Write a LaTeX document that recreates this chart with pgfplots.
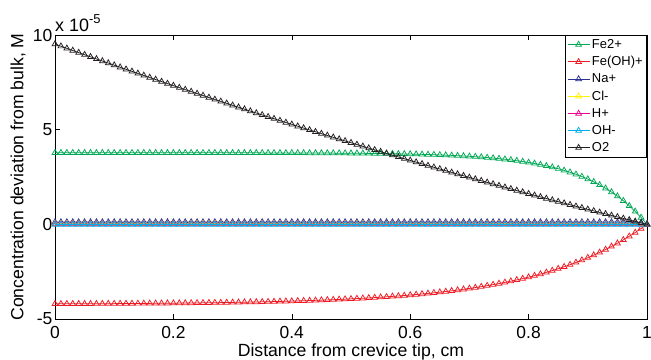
\documentclass[border=0pt]{standalone}
\usepackage{pgfplots}
\pgfplotsset{compat=1.18}
\usepackage{pgfplotstable}
\usepackage{fontspec}
\setmainfont{Liberation Sans}
\definecolor{fec}{RGB}{0,168,84}
\definecolor{feohc}{RGB}{237,28,36}
\definecolor{nac}{RGB}{46,49,146}
\definecolor{clc}{RGB}{255,242,0}
\definecolor{hc}{RGB}{236,0,140}
\definecolor{ohc}{RGB}{0,174,239}
\definecolor{o2c}{RGB}{35,31,32}
\pgfplotstableread{
x fe feoh na cl h oh o2
0.00 3.780 -4.201 0.12 0.03 0.01 -0.01 9.520
0.01 3.779 -4.200 0.12 0.03 0.01 -0.01 9.407
0.02 3.779 -4.199 0.12 0.03 0.01 -0.01 9.294
0.03 3.779 -4.198 0.12 0.03 0.01 -0.01 9.182
0.04 3.779 -4.197 0.12 0.03 0.01 -0.01 9.070
0.05 3.779 -4.195 0.12 0.03 0.01 -0.01 8.959
0.06 3.779 -4.194 0.12 0.03 0.01 -0.01 8.847
0.07 3.779 -4.193 0.12 0.03 0.01 -0.01 8.736
0.08 3.779 -4.191 0.12 0.03 0.01 -0.01 8.626
0.09 3.779 -4.189 0.12 0.03 0.01 -0.01 8.516
0.10 3.778 -4.188 0.12 0.03 0.01 -0.01 8.406
0.11 3.778 -4.186 0.12 0.03 0.01 -0.01 8.297
0.12 3.778 -4.184 0.12 0.03 0.01 -0.01 8.188
0.13 3.778 -4.182 0.12 0.03 0.01 -0.01 8.079
0.14 3.778 -4.180 0.12 0.03 0.01 -0.01 7.970
0.15 3.778 -4.177 0.12 0.03 0.01 -0.01 7.863
0.16 3.778 -4.175 0.12 0.03 0.01 -0.01 7.755
0.17 3.778 -4.173 0.12 0.03 0.01 -0.01 7.648
0.18 3.778 -4.170 0.12 0.03 0.01 -0.01 7.541
0.19 3.778 -4.167 0.12 0.03 0.01 -0.01 7.434
0.20 3.777 -4.164 0.12 0.03 0.01 -0.01 7.328
0.21 3.777 -4.161 0.12 0.03 0.01 -0.01 7.222
0.22 3.777 -4.158 0.12 0.03 0.01 -0.01 7.117
0.23 3.777 -4.154 0.12 0.03 0.01 -0.01 7.012
0.24 3.777 -4.151 0.12 0.03 0.01 -0.01 6.907
0.25 3.777 -4.147 0.12 0.03 0.01 -0.01 6.803
0.26 3.777 -4.143 0.12 0.03 0.01 -0.01 6.698
0.27 3.777 -4.139 0.12 0.03 0.01 -0.01 6.595
0.28 3.777 -4.134 0.12 0.03 0.01 -0.01 6.492
0.29 3.777 -4.129 0.12 0.03 0.01 -0.01 6.389
0.30 3.776 -4.124 0.12 0.03 0.01 -0.01 6.286
0.31 3.776 -4.119 0.12 0.03 0.01 -0.01 6.184
0.32 3.776 -4.113 0.12 0.03 0.01 -0.01 6.082
0.33 3.775 -4.107 0.12 0.03 0.01 -0.01 5.980
0.34 3.775 -4.101 0.12 0.03 0.01 -0.01 5.879
0.35 3.774 -4.094 0.12 0.03 0.01 -0.01 5.779
0.36 3.774 -4.087 0.12 0.03 0.01 -0.01 5.678
0.37 3.773 -4.080 0.12 0.03 0.01 -0.01 5.578
0.38 3.773 -4.072 0.12 0.03 0.01 -0.01 5.478
0.39 3.772 -4.064 0.12 0.03 0.01 -0.01 5.379
0.40 3.771 -4.055 0.12 0.03 0.01 -0.01 5.280
0.41 3.770 -4.046 0.12 0.03 0.01 -0.01 5.181
0.42 3.769 -4.036 0.12 0.03 0.01 -0.01 5.083
0.43 3.767 -4.026 0.12 0.03 0.01 -0.01 4.985
0.44 3.766 -4.015 0.12 0.03 0.01 -0.01 4.888
0.45 3.765 -4.004 0.12 0.03 0.01 -0.01 4.791
0.46 3.763 -3.992 0.12 0.03 0.01 -0.01 4.694
0.47 3.761 -3.979 0.12 0.03 0.01 -0.01 4.597
0.48 3.759 -3.966 0.12 0.03 0.01 -0.01 4.501
0.49 3.757 -3.952 0.12 0.03 0.01 -0.01 4.405
0.50 3.755 -3.937 0.12 0.03 0.01 -0.01 4.310
0.51 3.752 -3.921 0.12 0.03 0.01 -0.01 4.215
0.52 3.749 -3.905 0.12 0.03 0.01 -0.01 4.120
0.53 3.746 -3.887 0.12 0.03 0.01 -0.01 4.026
0.54 3.742 -3.869 0.12 0.03 0.01 -0.01 3.932
0.55 3.738 -3.849 0.12 0.03 0.01 -0.01 3.839
0.56 3.733 -3.829 0.12 0.03 0.01 -0.01 3.745
0.57 3.729 -3.807 0.12 0.03 0.01 -0.01 3.652
0.58 3.723 -3.784 0.12 0.03 0.01 -0.01 3.560
0.59 3.717 -3.760 0.12 0.03 0.01 -0.01 3.468
0.60 3.711 -3.734 0.12 0.03 0.01 -0.01 3.376
0.61 3.704 -3.707 0.12 0.03 0.01 -0.01 3.285
0.62 3.695 -3.679 0.12 0.03 0.01 -0.01 3.193
0.63 3.687 -3.649 0.12 0.03 0.01 -0.01 3.103
0.64 3.677 -3.617 0.12 0.03 0.01 -0.01 3.012
0.65 3.666 -3.584 0.12 0.03 0.01 -0.01 2.923
0.66 3.654 -3.548 0.12 0.03 0.01 -0.01 2.833
0.67 3.641 -3.511 0.12 0.03 0.01 -0.01 2.744
0.68 3.626 -3.472 0.12 0.03 0.01 -0.01 2.655
0.69 3.610 -3.430 0.12 0.03 0.01 -0.01 2.566
0.70 3.592 -3.386 0.12 0.03 0.01 -0.01 2.478
0.71 3.572 -3.340 0.12 0.03 0.01 -0.01 2.390
0.72 3.550 -3.291 0.12 0.03 0.01 -0.01 2.303
0.73 3.526 -3.239 0.12 0.03 0.01 -0.01 2.216
0.74 3.499 -3.185 0.12 0.03 0.01 -0.01 2.129
0.75 3.470 -3.127 0.12 0.03 0.01 -0.01 2.043
0.76 3.437 -3.067 0.12 0.03 0.01 -0.01 1.956
0.77 3.401 -3.003 0.12 0.03 0.01 -0.01 1.871
0.78 3.361 -2.935 0.12 0.03 0.01 -0.01 1.786
0.79 3.317 -2.864 0.12 0.03 0.01 -0.01 1.701
0.80 3.269 -2.788 0.12 0.03 0.01 -0.01 1.616
0.81 3.215 -2.709 0.12 0.03 0.01 -0.01 1.532
0.82 3.155 -2.625 0.12 0.03 0.01 -0.01 1.448
0.83 3.089 -2.536 0.12 0.03 0.01 -0.01 1.364
0.84 3.017 -2.443 0.12 0.03 0.01 -0.01 1.281
0.85 2.937 -2.344 0.12 0.03 0.01 -0.01 1.199
0.86 2.848 -2.240 0.12 0.03 0.01 -0.01 1.116
0.87 2.750 -2.130 0.12 0.03 0.01 -0.01 1.034
0.88 2.641 -2.014 0.12 0.03 0.01 -0.01 0.952
0.89 2.522 -1.891 0.12 0.03 0.01 -0.01 0.871
0.90 2.389 -1.762 0.12 0.03 0.01 -0.01 0.790
0.91 2.243 -1.626 0.12 0.03 0.01 -0.01 0.709
0.92 2.082 -1.481 0.12 0.03 0.01 -0.01 0.629
0.93 1.903 -1.329 0.12 0.03 0.01 -0.01 0.549
0.94 1.706 -1.169 0.12 0.03 0.01 -0.01 0.470
0.95 1.487 -0.999 0.12 0.03 0.01 -0.01 0.391
0.96 1.246 -0.820 0.12 0.03 0.01 -0.01 0.312
0.97 0.980 -0.632 0.12 0.03 0.01 -0.01 0.233
0.98 0.685 -0.433 0.11 0.03 0.01 -0.01 0.155
0.99 0.360 -0.222 0.08 0.02 0.01 -0.01 0.077
1.00 0.000 0.000 0.00 0.00 0.00 0.00 0.000
}\data
\begin{document}
\begin{tikzpicture}
\begin{axis}[
  width=592bp, height=284bp, scale only axis,
  clip mode=individual,
  xmin=0, xmax=1, ymin=-5, ymax=10,
  xtick={0,0.2,0.4,0.6,0.8,1}, xticklabels={0,0.2,0.4,0.6,0.8,1},
  ytick={-5,0,5,10}, yticklabels={-5,0,5,10},
  tick align=inside, major tick length=5bp,
  axis line style={line width=0.8pt},
  tick style={line width=0.6pt, color=black},
  ticklabel style={font=\fontsize{17.5}{20}\selectfont},
  xticklabel style={inner sep=0pt, yshift=-7.5bp},
  yticklabel style={inner sep=0pt, xshift=-2.5bp},
  every axis x label/.style={at={(axis description cs:0.5,0)}, anchor=base, yshift=-37bp, font=\fontsize{17.7}{20}\selectfont},
  every axis y label/.style={at={(axis description cs:-0.0625,0.5)}, anchor=center, rotate=90, font=\fontsize{17.7}{20}\selectfont},
  xlabel={Distance from crevice tip, cm},
  ylabel={Concentration deviation from bulk, M},
  legend style={at={(1,1)}, anchor=north east, draw=black, line width=0.6pt, fill=white,
    font=\fontsize{13}{15}\selectfont, inner sep=2bp, row sep=2.6bp, cells={anchor=west}},
  legend image code/.code={\draw[mark repeat=2,mark phase=2] plot coordinates {(0bp,0bp)(11bp,0bp)(22bp,0bp)};},
  every axis plot/.append style={line width=0.75pt, mark=triangle, mark size=3.3bp, mark options={solid}},
]
\addplot[color=fec] table[x=x,y=fe]{\data};
\addlegendentry{Fe2+}
\addplot[color=feohc] table[x=x,y=feoh]{\data};
\addlegendentry{Fe(OH)+}
\addplot[color=nac] table[x=x,y=na]{\data};
\addlegendentry{Na+}
\addplot[color=clc] table[x=x,y=cl]{\data};
\addlegendentry{Cl-}
\addplot[color=hc] table[x=x,y=h]{\data};
\addlegendentry{H+}
\addplot[color=ohc] table[x=x,y=oh]{\data};
\addlegendentry{OH-}
\addplot[color=o2c] table[x=x,y=o2]{\data};
\addlegendentry{O2}
\node[anchor=base west, inner sep=0pt] at (rel axis cs:0,1) [yshift=3bp] {\fontsize{18}{20}\selectfont x 10\raisebox{8bp}{\fontsize{13}{15}\selectfont -5}};
\end{axis}
\pgfresetboundingbox
\path[use as bounding box] (-55bp,-41bp) rectangle (596bp,319bp);
\end{tikzpicture}
\end{document}
